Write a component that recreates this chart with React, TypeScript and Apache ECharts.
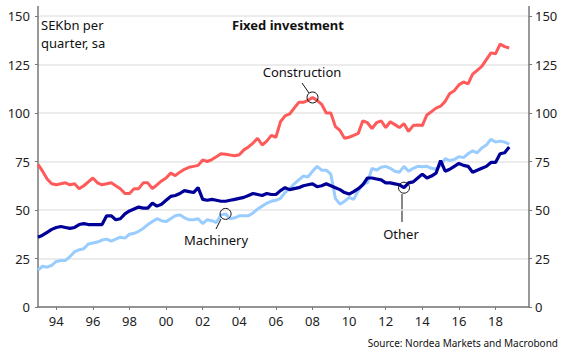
import React, { useEffect, useRef } from "react";
import * as echarts from "echarts";

const startYear = 1993; // first quarter: 1993 Q1
const tickYears = [1994, 1996, 1998, 2000, 2002, 2004, 2006, 2008, 2010, 2012, 2014, 2016, 2018];

const construction = [
  73.5, 70, 66, 63.5, 63, 63.5, 64, 63, 63.5, 61, 62.5, 64.5, 66.5, 64, 63, 63.5, 64, 62.5, 61, 58.5, 58.5, 61, 61, 64, 64, 61,
  63, 65, 66.5, 69, 67.7, 69.5, 71, 72, 72.5, 73, 75.8, 75, 76, 77.5, 79, 78.7, 78.3, 78, 78.5, 81, 82.5, 84.5, 87, 83.5, 85.5, 88.5,
  87.5, 95.5, 98.5, 99.5, 102.5, 105.5, 105.5, 106.5, 108, 106.5, 104.5, 100, 100, 93, 91, 87, 87.5, 88.5, 89.5, 96, 95, 92, 95, 96, 92.5, 95.5,
  94, 92.5, 94.5, 90.5, 93.5, 93.8, 93.5, 99, 100.7, 102.5, 103.5, 106, 110, 111.5, 114.5, 116, 115, 120, 122, 124, 127.5, 131, 130.5, 135.5, 134.2, 133.5,
];

const other = [
  36, 37, 38.5, 40, 41, 41.5, 41, 40.5, 41, 42.5, 43, 42.5, 42.5, 42.5, 42.5, 47, 47, 45, 45.5, 48, 49.5, 50.5, 51.5, 51, 51, 53.5,
  52, 53, 55, 57, 57.5, 58.5, 60, 59.5, 59, 61.5, 55.5, 55, 55.5, 55, 54.5, 54.5, 55, 55.5, 56, 56.5, 57.5, 58.5, 58, 57.5, 58.5, 58,
  58, 60, 61.5, 60.5, 61, 61.5, 62.5, 63, 63.5, 62, 62.5, 63.5, 62.5, 61.5, 60.5, 59, 58.2, 59.5, 61, 63, 66.5, 66.5, 66, 65.5, 64, 64,
  63.5, 63, 61.5, 64, 64.5, 66.5, 68.5, 66.5, 67.5, 69, 75.5, 70, 71, 72.5, 74, 73, 72.5, 69.5, 70.5, 71.5, 72.5, 74.5, 74.5, 79, 79.5, 82.5,
];

const machinery = [
  19, 21, 20.5, 21.5, 23.5, 24, 24, 26, 28.5, 29.5, 30, 32.5, 33, 33.5, 34.5, 35, 34, 35, 36, 35.5, 37.5, 38, 39, 40.5, 42.5, 44,
  45.5, 44.5, 44, 45.5, 47, 47.5, 46, 45, 45, 45.5, 43, 45, 44.5, 43.5, 47.5, 48, 45.5, 46, 47, 47, 47, 48.5, 50.5, 52, 53.5, 54.5,
  55, 56, 59, 61, 63.5, 65.5, 67.5, 67, 70, 72.5, 70.5, 70.5, 68.5, 56, 53, 54.5, 56.5, 55.5, 60, 63.5, 64, 71.5, 70.5, 72, 72.5, 71.5,
  70, 69.5, 72.5, 70, 71.5, 72.5, 72.3, 72.5, 71.5, 71, 73, 76.5, 75.5, 76, 77.5, 77, 79, 80.5, 79.5, 82, 83.5, 86.5, 85, 85.5, 85, 84,
];

const qx = (i: number) => startYear + i / 4;
const toPairs = (arr: number[]) => arr.map((v, i) => [qx(i), v]);

const FONT = "'Noto Sans', 'Open Sans', sans-serif";
const AXIS = "#777";

export default function App() {
  const ref = useRef<HTMLDivElement>(null);
  useEffect(() => {
    document.body.style.margin = "0";
    if (!ref.current) return;
    const chart = echarts.init(ref.current, undefined, { renderer: "svg" });
    const yAxisBase = {
      type: "value" as const,
      min: 0,
      max: 150,
      interval: 25,
      axisLine: { show: true, lineStyle: { color: AXIS, width: 1.5 } },
      axisTick: { show: true, length: 3, lineStyle: { color: AXIS } },
      axisLabel: { color: "#222", fontSize: 13, fontFamily: FONT },
    };
    const mark = (arr: number[], i: number) => ({
      symbol: "circle",
      symbolSize: 11,
      silent: true,
      label: { show: false },
      itemStyle: { color: "rgba(0,0,0,0)", borderColor: "#111", borderWidth: 1 },
      data: [{ coord: [qx(i), arr[i]] }],
    });
    chart.setOption({
      animation: false,
      backgroundColor: "#fff",
      grid: { left: 38, right: 38, top: 16, bottom: 51, containLabel: false },
      xAxis: {
        type: "value",
        min: startYear,
        max: 2019.83,
        axisLine: { show: true, onZero: false, lineStyle: { color: AXIS, width: 1.5 } },
        axisTick: { show: true, length: 3, customValues: tickYears, lineStyle: { color: AXIS } },
        axisLabel: {
          customValues: tickYears,
          color: "#222",
          fontSize: 13,
          fontFamily: FONT,
          margin: 7,
          formatter: (v: number) => String(Math.round(v) % 100).padStart(2, "0"),
        },
        splitLine: { show: false },
      },
      yAxis: [
        {
          ...yAxisBase,
          position: "left",
          axisLabel: { ...yAxisBase.axisLabel, margin: 8 },
          splitLine: { show: true, lineStyle: { color: "#e6e6e6", width: 1.5 } },
        },
        {
          ...yAxisBase,
          position: "right",
          axisLabel: { ...yAxisBase.axisLabel, margin: 6 },
          splitLine: { show: false },
        },
      ],
      series: [
        {
          name: "Construction",
          type: "line",
          data: toPairs(construction),
          showSymbol: false,
          lineStyle: { color: "#ff5a5a", width: 3 },
          itemStyle: { color: "#ff5a5a" },
          markPoint: mark(construction, 60),
          z: 3,
        },
        {
          name: "Machinery",
          type: "line",
          data: toPairs(machinery),
          showSymbol: false,
          lineStyle: { color: "#99ccff", width: 3 },
          itemStyle: { color: "#99ccff" },
          markPoint: mark(machinery, 41),
          z: 2,
        },
        {
          name: "Other",
          type: "line",
          data: toPairs(other),
          showSymbol: false,
          lineStyle: { color: "#000099", width: 3.2 },
          itemStyle: { color: "#000099" },
          markPoint: mark(other, 80),
          z: 4,
        },
      ],
      graphic: [
        { type: "line", shape: { x1: 38, y1: 6, x2: 38, y2: 16 }, style: { stroke: AXIS, lineWidth: 1.5 } },
        { type: "line", shape: { x1: 529, y1: 6, x2: 529, y2: 16 }, style: { stroke: AXIS, lineWidth: 1.5 } },
        {
          type: "text",
          x: 41,
          y: 25,
          style: { text: "SEKbn per", fontSize: 13, lineHeight: 14, fontFamily: FONT, fill: "#111", verticalAlign: "middle" },
        },
        {
          type: "text",
          x: 41,
          y: 43,
          style: { text: "quarter, sa", fontSize: 13, lineHeight: 14, fontFamily: FONT, fill: "#111", verticalAlign: "middle" },
        },
        {
          type: "text",
          x: 288,
          y: 25,
          style: { text: "Fixed investment", fontSize: 13, fontWeight: "bold", fontFamily: FONT, fill: "#111", align: "center", verticalAlign: "middle" },
        },
        {
          type: "text",
          x: 302,
          y: 72,
          style: { text: "Construction", fontSize: 13, fontFamily: FONT, fill: "#111", align: "center", verticalAlign: "middle" },
        },
        { type: "line", shape: { x1: 302, y1: 83, x2: 309, y2: 93 }, style: { stroke: "#111", lineWidth: 1 } },
        {
          type: "text",
          x: 216,
          y: 240,
          style: { text: "Machinery", fontSize: 13, fontFamily: FONT, fill: "#111", align: "center", verticalAlign: "middle" },
        },
        { type: "line", shape: { x1: 221, y1: 219, x2: 216, y2: 229 }, style: { stroke: "#111", lineWidth: 1 } },
        {
          type: "text",
          x: 401,
          y: 234,
          style: { text: "Other", fontSize: 13, fontFamily: FONT, fill: "#111", align: "center", verticalAlign: "middle" },
        },
        { type: "line", shape: { x1: 402, y1: 194, x2: 402, y2: 222 }, style: { stroke: "#111", lineWidth: 1 } },
        {
          type: "text",
          x: 558,
          y: 343,
          style: { text: "Source: Nordea Markets and Macrobond", fontSize: 10, fontFamily: FONT, fill: "#111", align: "right", verticalAlign: "middle" },
        },
      ],
    });
    return () => chart.dispose();
  }, []);
  return <div ref={ref} style={{ width: 567, height: 358 }} />;
}
